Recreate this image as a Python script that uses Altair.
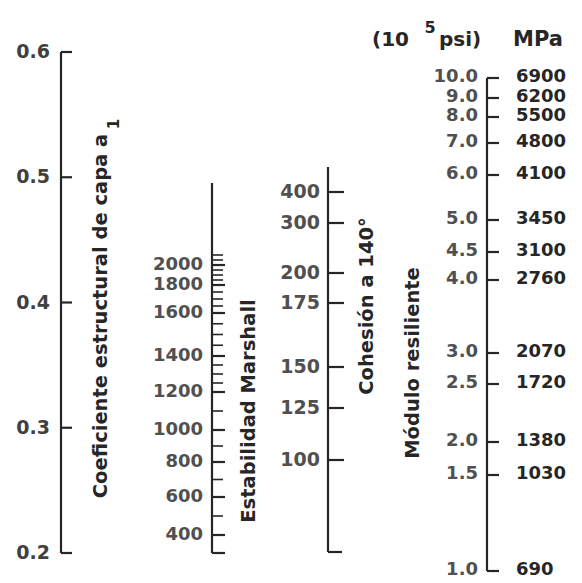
import altair as alt
import pandas as pd

a1_values = [0.2, 0.3, 0.4, 0.5, 0.6]
a1_labels = ["0.2", "0.3", "0.4", "0.5", "0.6"]

marshall_major = [400, 600, 800, 1000, 1200, 1400, 1600, 1800, 2000]
marshall_minor = [500, 700, 900, 1100, 1250, 1300, 1350, 1450, 1500, 1550,
                  1650, 1700, 1750, 1850, 1900, 1950, 2050, 2100]

cohesion_values = [100, 125, 150, 175, 200, 300, 400]

modulus_psi = [1.0, 1.5, 2.0, 2.5, 3.0, 4.0, 4.5, 5.0, 6.0, 7.0, 8.0, 9.0, 10.0]
modulus_psi_labels = ["1.0", "1.5", "2.0", "2.5", "3.0", "4.0", "4.5", "5.0",
                      "6.0", "7.0", "8.0", "9.0", "10.0"]
modulus_mpa = [690, 1030, 1380, 1720, 2070, 2760, 3100, 3450, 4100, 4800, 5500, 6200, 6900]

# ---------------- layout (pixel placement of each nomograph scale) ----------------
A1_RANGE = [545, 44]
MARSHALL_RANGE = [527, 489, 454, 422, 384, 348, 305, 277, 257]
COHESION_RANGE = [452, 400, 359, 295, 265, 215, 184]
MODULUS_RANGE = [563, 467, 434, 376, 345, 272, 244, 212, 167, 135, 109, 90, 70]

FONT = "DejaVu Sans"
INK = "#262626"
GREY = "#505050"
LW = 2.2


def sc(domain, rng):
    return alt.Scale(type="linear", domain=domain, range=rng, nice=False, zero=False, clamp=False)


def rule(df, x1, x2, y, width=LW):
    return alt.Chart(df).mark_rule(color=INK, strokeWidth=width).encode(
        x=alt.value(x1), x2=alt.value(x2), y=y)


def vline(df, x, y, y2):
    return alt.Chart(df).mark_rule(color=INK, strokeWidth=LW).encode(
        x=alt.value(x), y=y, y2=y2)


def labels(df, x, y, align, color, size=19, dy=0):
    return alt.Chart(df).mark_text(
        align=align, baseline="middle", font=FONT, fontSize=size,
        fontWeight="bold", color=color, dy=dy).encode(
        x=alt.value(x), y=y, text="label:N")


def title(text, x, y, size=19.5, angle=270):
    return alt.Chart(alt.Data(values=[{}])).mark_text(
        text=text, angle=angle, align="center", baseline="middle",
        font=FONT, fontSize=size, fontWeight="bold", color=INK).encode(
        x=alt.value(x), y=alt.value(y))


def htext(text, x, y, align, size=20, color=INK):
    return alt.Chart(alt.Data(values=[{}])).mark_text(
        text=text, align=align, baseline="alphabetic",
        font=FONT, fontSize=size, fontWeight="bold", color=color).encode(
        x=alt.value(x), y=alt.value(y))


# ---------------- a1 scale ----------------
a1_df = pd.DataFrame({"v": a1_values, "label": a1_labels})
a1_ext = pd.DataFrame({"lo": [min(a1_values)], "hi": [max(a1_values)]})
a1_sc = sc([0.2, 0.6], A1_RANGE)
g_a1 = alt.layer(
    vline(a1_ext, 53, alt.Y("lo:Q", scale=a1_sc, axis=None), alt.Y2("hi:Q")),
    rule(a1_df, 53, 64, alt.Y("v:Q", scale=a1_sc, axis=None)),
    labels(a1_df, 42, alt.Y("v:Q", scale=a1_sc, axis=None), "right", "#404040"),
)

# ---------------- Marshall stability ----------------
m_major = pd.DataFrame({"v": marshall_major, "label": [str(v) for v in marshall_major]})
m_minor = pd.DataFrame({"v": marshall_minor})
m_sc = sc(marshall_major, MARSHALL_RANGE)
g_m = alt.layer(
    vline(alt.Data(values=[{}]), 204, alt.value(175), alt.value(545)),
    rule(alt.Data(values=[{}]), 204, 217, alt.value(545)),
    rule(m_minor, 204, 215, alt.Y("v:Q", scale=m_sc, axis=None), width=1.6),
    rule(m_major, 204, 217, alt.Y("v:Q", scale=m_sc, axis=None)),
    labels(m_major, 195, alt.Y("v:Q", scale=m_sc, axis=None), "right", GREY, size=18),
)

# ---------------- Cohesion ----------------
c_df = pd.DataFrame({"v": cohesion_values, "label": [str(v) for v in cohesion_values]})
c_sc = sc(cohesion_values, COHESION_RANGE)
g_c = alt.layer(
    vline(alt.Data(values=[{}]), 320, alt.value(159), alt.value(544)),
    rule(alt.Data(values=[{}]), 320, 334, alt.value(544)),
    rule(c_df, 320, 336, alt.Y("v:Q", scale=c_sc, axis=None)),
    labels(c_df, 312, alt.Y("v:Q", scale=c_sc, axis=None), "right", GREY),
)

# ---------------- Resilient modulus ----------------
mod_df = pd.DataFrame({"v": modulus_psi, "label": modulus_psi_labels})
mpa_df = pd.DataFrame({"v": modulus_psi, "label": [str(v) for v in modulus_mpa]})
mod_ext = pd.DataFrame({"lo": [min(modulus_psi)], "hi": [max(modulus_psi)]})
mod_sc = sc(modulus_psi, MODULUS_RANGE)
g_mod = alt.layer(
    vline(mod_ext, 479, alt.Y("lo:Q", scale=mod_sc, axis=None), alt.Y2("hi:Q")),
    rule(mod_df, 479, 491, alt.Y("v:Q", scale=mod_sc, axis=None)),
    labels(mod_df, 470, alt.Y("v:Q", scale=mod_sc, axis=None), "right", GREY, size=18, dy=-1),
    labels(mpa_df, 508, alt.Y("v:Q", scale=mod_sc, axis=None), "left", INK, size=18, dy=-1),
)

# ---------------- titles / header ----------------
g_text = alt.layer(
    title("Coeficiente estructural de capa a", 93, 308),
    title("1", 106, 116, size=15),
    title("Estabilidad Marshall", 241, 403),
    title("Cohesión a 140°", 359, 298),
    title("Módulo resiliente", 405, 355),
    htext("(10", 401, 38, "right"),
    htext("5", 422, 25, "center", size=16),
    htext("psi)", 431, 38, "left"),
    htext("MPa", 505, 38, "left", size=21),
)

chart = alt.layer(g_a1, g_m, g_c, g_mod, g_text).resolve_scale(
    y="independent"
).properties(
    width=566, height=575,
    autosize=alt.AutoSizeParams(type="none"),
    padding=0,
    background="white",
).configure_view(stroke=None)

chart.save("out.html", embed_options={"renderer": "svg", "actions": False})
